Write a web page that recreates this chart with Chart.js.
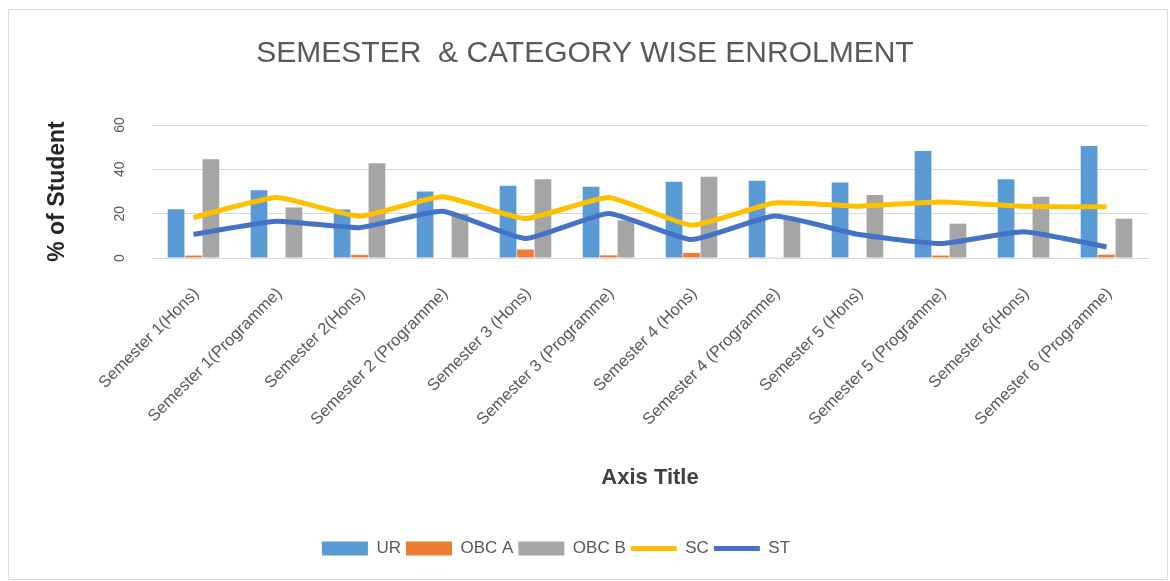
<!DOCTYPE html>
<html>
<head>
<meta charset="utf-8">
<title>Semester & Category Wise Enrolment</title>
<script src="https://cdn.jsdelivr.net/npm/chart.js@4.4.0/dist/chart.umd.min.js"></script>
<style>
    body { margin: 0; background: #fff; }
    #frame {
        position: absolute; left: 8px; top: 9px;
        width: 1160px; height: 571px;
        box-sizing: border-box;
        border: 1px solid #dedede;
    }
    #chart { position: absolute; left: 0; top: 0; }
</style>
</head>
<body>
<div id="frame"></div>
<canvas id="chart" width="1170" height="581"></canvas>
<script>
// Categories and series (% of students)
const semesters = [
    'Semester 1(Hons)', 'Semester 1(Programme)', 'Semester 2(Hons)', 'Semester 2 (Programme)',
    'Semester 3 (Hons)', 'Semester 3 (Programme)', 'Semester 4 (Hons)', 'Semester 4 (Programme)',
    'Semester 5 (Hons)', 'Semester 5 (Programme)', 'Semester 6(Hons)', 'Semester 6 (Programme)'
];
const urValues   = [22.0, 30.6, 21.9, 30.0, 32.6, 32.1, 34.4, 34.8, 34.1, 48.3, 35.5, 50.5];
const obcAValues = [1.1, 0, 1.4, 0, 3.8, 1.2, 2.3, 0.3, 0, 1.1, 0, 1.5];
const obcBValues = [44.5, 22.8, 42.7, 19.8, 35.5, 17.0, 36.7, 18.0, 28.4, 15.5, 27.6, 17.7];
const scValues   = [18.3, 27.3, 18.9, 27.6, 17.8, 27.3, 14.8, 24.8, 23.4, 25.3, 23.4, 23.1];
const stValues   = [10.7, 16.6, 13.7, 21.1, 8.8, 20.1, 8.3, 18.9, 10.7, 6.5, 11.8, 5.0];
const yTicks = [0, 20, 40, 60];

const FONT = "'Liberation Sans', Arial, sans-serif";
const GREY_TEXT = '#595959';

const barSet = (label, data, color) => ({
    type: 'bar',
    label: label,
    data: data,
    backgroundColor: color,
    borderWidth: 0,
    barPercentage: 0.96,
    categoryPercentage: 0.63,
    pointStyle: 'rect',
    order: 2
});

const lineSet = (label, data, color) => ({
    type: 'line',
    label: label,
    data: data,
    borderColor: color,
    backgroundColor: color,
    borderWidth: 5,
    pointRadius: 0,
    tension: 0.15,
    pointStyle: 'line',
    order: 1
});

// The original legend sits a little left of centre
const legendShift = {
    id: 'legendShift',
    afterLayout(chart) {
        chart.legend.left -= 29;
        chart.legend.right -= 29;
    }
};

new Chart(document.getElementById('chart'), {
    data: {
        labels: semesters,
        datasets: [
            barSet('UR', urValues, '#5B9BD5'),
            barSet('OBC A', obcAValues, '#ED7D31'),
            barSet('OBC B', obcBValues, '#A5A5A5'),
            lineSet('SC', scValues, '#FFC000'),
            lineSet('ST', stValues, '#4472C4')
        ]
    },
    plugins: [legendShift],
    options: {
        responsive: false,
        animation: false,
        devicePixelRatio: 1,
        layout: { padding: { top: 10, left: 22, right: 22, bottom: 14 } },
        plugins: {
            title: {
                display: true,
                text: 'SEMESTER  & CATEGORY WISE ENROLMENT',
                color: GREY_TEXT,
                font: { family: FONT, size: 30, weight: 'normal' },
                padding: { top: 26, bottom: 53 }
            },
            legend: {
                position: 'bottom',
                labels: {
                    usePointStyle: true,
                    pointStyleWidth: 46,
                    boxHeight: 14,
                    padding: 5,
                    color: GREY_TEXT,
                    font: { family: FONT, size: 17 },
                    sort: (a, b) => a.datasetIndex - b.datasetIndex
                }
            },
            tooltip: { enabled: false }
        },
        scales: {
            x: {
                grid: { display: false },
                border: { color: '#d9d9d9' },
                ticks: {
                    autoSkip: false,
                    minRotation: 45,
                    maxRotation: 45,
                    padding: 18,
                    labelOffset: 3,
                    color: GREY_TEXT,
                    font: { family: FONT, size: 16.5 }
                },
                title: {
                    display: true,
                    text: 'Axis Title',
                    color: '#404040',
                    font: { family: FONT, size: 22, weight: 'bold' },
                    padding: { top: 4, bottom: 44 }
                },
                // keep the plot bottom on the zero line of the original
                afterFit(scale) {
                    scale.height = 309 - scale.chart.legend.height;
                }
            },
            y: {
                min: 0,
                max: 60,
                afterBuildTicks(scale) {
                    scale.ticks = yTicks.map(v => ({ value: v }));
                },
                grid: { color: '#d9d9d9', drawTicks: false },
                border: { display: false },
                ticks: {
                    minRotation: 90,
                    maxRotation: 90,
                    crossAlign: 'center',
                    padding: 24,
                    color: GREY_TEXT,
                    font: { family: FONT, size: 14 }
                },
                title: {
                    display: true,
                    text: '% of Student',
                    color: '#262626',
                    font: { family: FONT, size: 23, weight: 'bold' },
                    padding: { top: 22, bottom: 0 }
                },
                afterFit(scale) {
                    scale.width = 130;
                }
            }
        }
    }
});
</script>
</body>
</html>
